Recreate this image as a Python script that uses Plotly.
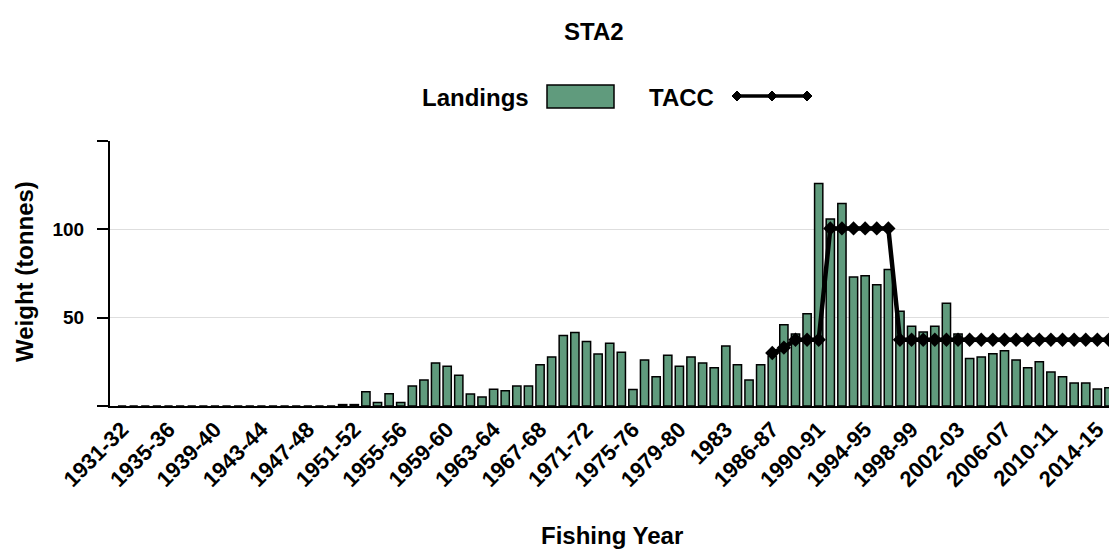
import plotly.graph_objects as go

categories = [
    "1931-32", "1932-33", "1933-34", "1934-35", "1935-36", "1936-37", "1937-38", "1938-39",
    "1939-40", "1940-41", "1941-42", "1942-43", "1943-44", "1944-45", "1945-46", "1946-47",
    "1947-48", "1948-49", "1949-50", "1950-51", "1951-52", "1952-53", "1953-54", "1954-55",
    "1955-56", "1956-57", "1957-58", "1958-59", "1959-60", "1960-61", "1961-62", "1962-63",
    "1963-64", "1964-65", "1965-66", "1966-67", "1967-68", "1968-69", "1969-70", "1970-71",
    "1971-72", "1972-73", "1973-74", "1974-75", "1975-76", "1976-77", "1977-78", "1978-79",
    "1979-80", "1980-81", "1981-82", "1982-83", "1983", "1983-84", "1984-85", "1985-86",
    "1986-87", "1987-88", "1988-89", "1989-90", "1990-91", "1991-92", "1992-93", "1993-94",
    "1994-95", "1995-96", "1996-97", "1997-98", "1998-99", "1999-00", "2000-01", "2001-02",
    "2002-03", "2003-04", "2004-05", "2005-06", "2006-07", "2007-08", "2008-09", "2009-10",
    "2010-11", "2011-12", "2012-13", "2013-14", "2014-15", "2015-16",
]

landings = [
    0, 0, 0, 0, 0, 0, 0, 0,
    0, 0, 0, 0, 0, 0, 0, 0,
    0, 0, 0, 0.8, 0.8, 8, 2, 7,
    2, 11.3, 14.7, 24.4, 22.5, 17.4, 6.8, 5.1,
    9.5, 8.7, 11.3, 11.3, 23.4, 27.8, 39.9, 41.6,
    36.5, 29.5, 35.5, 30.4, 9.4, 26.1, 16.5, 28.7,
    22.5, 27.8, 24.4, 21.6, 34.0, 23.4, 14.7, 23.4,
    28.2, 46.0, 40.8, 52.2, 125.9, 105.9, 114.6, 73.0,
    73.7, 68.6, 77.2, 53.7, 45.2, 41.9, 45.2, 58.1,
    40.8, 26.9, 27.8, 29.6, 31.3, 26.1, 21.6, 25.1,
    19.2, 16.5, 13.0, 13.0, 9.6, 10.4,
]

tacc = [None] * 56 + [
    30, 33, 37.5, 37.5, 37.5, 100.5, 100.5, 100.5,
    100.5, 100.5, 100.5, 37.5, 37.5, 37.5, 37.5, 37.5,
    37.5, 37.5, 37.5, 37.5, 37.5, 37.5, 37.5, 37.5,
    37.5, 37.5, 37.5, 37.5, 37.5, 37.5,
]

tick_labels = categories[::4]
y_tick_values = [0, 50, 100, 150]
y_tick_text = ["", "50", "100", ""]

# page body has an 8px default margin; lay the figure out in reference pixels
OFF = 8
W, H = 1117 - OFF, 551 - OFF
ML, MR, MT = 110 - OFF, 2, 141 - OFF
MB = H - (406 - OFF)
FONT = "Liberation Sans"
BAR_COLOR = "#609b7d"


def px(rx):
    return (rx - OFF - ML) / (W - ML - MR)


def py(ry):
    return (H - MB - (ry - OFF)) / (H - MT - MB)


fig = go.Figure()
fig.add_trace(go.Bar(
    x=categories, y=landings, name="Landings",
    marker=dict(color=BAR_COLOR, line=dict(color="black", width=1.5)),
))
fig.add_trace(go.Scatter(
    x=categories, y=tacc, name="TACC", mode="lines+markers",
    line=dict(color="black", width=4.5),
    marker=dict(symbol="diamond", size=11, color="black"),
    connectgaps=False,
))


def label(text, rx, ry, size, xanchor="center", angle=0):
    return dict(text=f"<b>{text}</b>", x=px(rx), y=py(ry), xref="paper", yref="paper",
                xanchor=xanchor, yanchor="middle", textangle=angle, showarrow=False,
                font=dict(family=FONT, size=size, color="black"))


annotations = [
    label("STA2", 594, 31, 24),
    label("Landings", 531, 97, 24, xanchor="right"),
    label("TACC", 647, 97, 24, xanchor="left"),
    label("Weight (tonnes)", 24, 272, 24, angle=-90),
    label("Fishing Year", 612, 535, 24),
]

shapes = [
    dict(type="rect", xref="paper", yref="paper", x0=px(547), x1=px(614), y0=py(108), y1=py(85),
         fillcolor=BAR_COLOR, line=dict(color="black", width=1.5)),
    dict(type="line", xref="paper", yref="paper", x0=px(733), x1=px(810), y0=py(96), y1=py(96),
         line=dict(color="black", width=3.5)),
]
for cx in (737, 772, 807):
    d = 5
    path = (f"M {px(cx - d)} {py(96)} L {px(cx)} {py(96 - d)} "
            f"L {px(cx + d)} {py(96)} L {px(cx)} {py(96 + d)} Z")
    shapes.append(dict(type="path", xref="paper", yref="paper", path=path,
                       fillcolor="black", line=dict(color="black", width=1)))

fig.update_layout(
    width=W, height=H,
    margin=dict(l=ML, r=MR, t=MT, b=MB, pad=0, autoexpand=False),
    paper_bgcolor="white", plot_bgcolor="white",
    showlegend=False,
    bargap=0.29,
    font=dict(family=FONT, color="black"),
    annotations=annotations,
    shapes=shapes,
    xaxis=dict(
        type="category", range=[-1.04, 85.52],
        tickmode="array", tickvals=tick_labels, ticktext=tick_labels,
        tickangle=-45, ticks="", showgrid=False, automargin=False,
        showline=True, linecolor="black", linewidth=2,
        tickfont=dict(family=FONT, size=22, color="black", weight="bold"),
    ),
    yaxis=dict(
        range=[0, 150], tickmode="array", tickvals=y_tick_values, ticktext=y_tick_text,
        ticks="outside", ticklen=11, tickwidth=1.5, tickcolor="black", automargin=False,
        ticklabelstandoff=9,
        showline=True, linecolor="black", linewidth=2,
        showgrid=True, gridcolor="#dedede", gridwidth=1, zeroline=False,
        tickfont=dict(family=FONT, size=19, color="black", weight="bold"),
    ),
)

fig.write_html("out.html")
